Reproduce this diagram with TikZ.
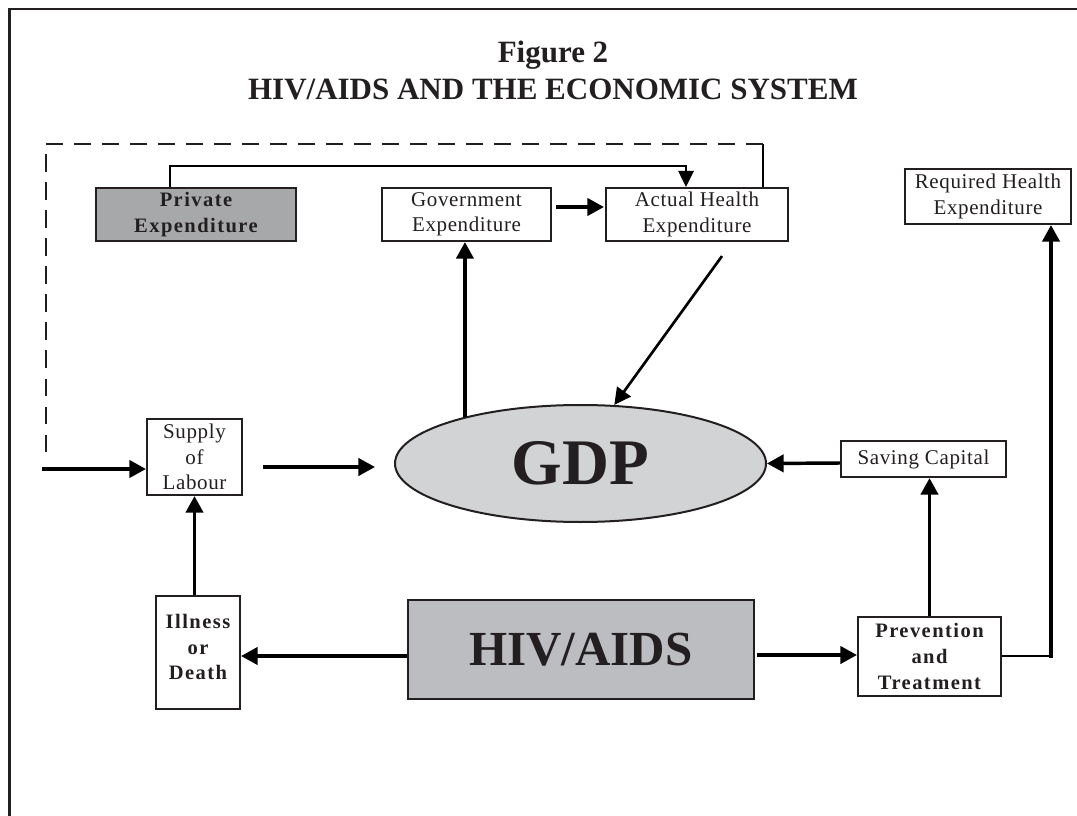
\documentclass[tikz,border=0pt]{standalone}
\usepackage{fontspec}
\setmainfont{Liberation Serif}
\newfontfamily\regsp[LetterSpace=3]{Liberation Serif}
\newfontfamily\boldsp[LetterSpace=7]{Liberation Serif}
\usetikzlibrary{arrows.meta,calc,shapes.geometric}
\definecolor{ink}{HTML}{231F20}
\definecolor{privgray}{HTML}{A7A8AA}
\definecolor{hivgray}{HTML}{BCBDC0}
\definecolor{gdpgray}{HTML}{D1D3D4}
\begin{document}
\begin{tikzpicture}[x=0.75pt,y=-0.75pt,
  box/.style={draw=ink, line width=1.6pt, fill=white, inner sep=0pt, align=center, text=ink},
  regtxt/.style={font=\regsp\fontsize{15.75pt}{18.9pt}\selectfont},
  boldtxt/.style={font=\boldsp\bfseries\fontsize{15.4pt}{19.2pt}\selectfont},
  titletxt/.style={font=\bfseries\fontsize{23.25pt}{28pt}\selectfont, text=ink, inner sep=0pt},
  arr/.style={draw=black, line width=2.6pt, -{Triangle[length=12.5pt,width=13pt]}},
  thinarr/.style={draw=black, line width=1.3pt, -{Triangle[length=12pt,width=11.5pt]}},
  diagarr/.style={draw=black, line width=2pt, -{Triangle[length=12.5pt,width=12.5pt]}},
  thinline/.style={draw=black, line width=1.5pt},
  dashline/.style={draw=ink, line width=1.5pt, dash pattern=on 13pt off 8pt}
]
\useasboundingbox (0,0) rectangle (1077,816);
% frame
\draw[draw=ink, line width=1.7pt] (9.5,816) -- (9.5,9) -- (1077,9);

% title
\node[titletxt, anchor=base] (t1) at (553,63) {Figure 2};
\node[titletxt, anchor=base] (t2) at (553,100) {HIV/AIDS AND THE ECONOMIC SYSTEM};

% nodes
\node[box, boldtxt, fill=privgray, minimum width=150pt, minimum height=39.75pt] (private) at (196,214.5) {Private\\Expenditure};
\node[box, regtxt, minimum width=126.75pt, minimum height=39.75pt] (gov) at (466.5,214.5) {Government\\Expenditure};
\node[box, regtxt, minimum width=136.5pt, minimum height=39.75pt] (actual) at (697,214.5) {Actual Health\\Expenditure};
\node[box, regtxt, minimum width=124.5pt, minimum height=41.25pt] (required) at (988,196.5) {Required Health\\Expenditure};
\node[box, regtxt, minimum width=71.25pt, minimum height=57pt] (supply) at (194.5,457) {Supply\\of\\Labour};
\node[ellipse, draw=ink, line width=1.5pt, fill=gdpgray, minimum width=278.25pt, minimum height=87.75pt, inner sep=0pt, text=ink, font=\bfseries\fontsize{48.75pt}{50pt}\selectfont] (gdp) at (580.5,463.5) {GDP};
\node[box, regtxt, minimum width=123.75pt, minimum height=27pt] (saving) at (923.5,459) {Saving Capital};
\node[box, minimum width=63pt, minimum height=84.75pt] (illness) at (198,652.5) {};
\node[boldtxt, align=center, text=ink, inner sep=0pt] (illtxt) at (198,647) {Illness\\or\\Death};
\node[box, fill=hivgray, minimum width=259.5pt, minimum height=74.25pt, font=\bfseries\fontsize{36.75pt}{40pt}\selectfont] (hiv) at (581,649.5) {HIV/AIDS};
\node[box, boldtxt, minimum width=107.25pt, minimum height=59.25pt] (prev) at (929.5,656.5) {Prevention\\and\\Treatment};

% coordinates for free ends
\coordinate (c1) at (763,144);
\coordinate (c2) at (45.5,144);
\coordinate (c3) at (45.5,460);
\coordinate (c4) at (42,469);
\coordinate (pr) at (1051,656);

% dashed feedback
\draw[thinline] ($(actual.north)+(66,0)$) -- (c1);
\draw[dashline] (c1) -- (c2) -- (c3);
\draw[arr] (c4) -- (c4 -| supply.west);

% private -> actual
\draw[thinarr] ($(private.north)+(-26,0)$) -- ++(0,-21) -| ($(actual.north)+(-11,0)$);
% gov -> actual
\draw[arr] ($(gov.east)+(4,-7.5)$) -- ($(actual.west)+(-1,-7.5)$);
% gdp -> gov
\draw[arr] (gdp.158) -- (gdp.158 |- gov.south);
% actual -> gdp
\draw[diagarr] ($(actual.south)+(25,14)$) -- (gdp.60.5);
% supply -> gdp
\draw[arr] ($(supply.east)+(20,10)$) -- ($(gdp.west)+(-19,3.5)$);
% illness -> supply
\draw[arr] (illness.north -| supply.south) -- (supply.south);
% hiv -> illness
\draw[arr] ($(hiv.west)+(0,6.5)$) -- ($(illness.east)+(0,3.5)$);
% hiv -> prevention
\draw[arr] ($(hiv.east)+(2,5.5)$) -- ($(prev.west)+(0,-1.5)$);
% prevention -> saving
\draw[arr] (prev.north) -- (prev.north |- saving.south);
% saving -> gdp
\draw[arr] ($(saving.west)+(0,4)$) -- (gdp.east);
% prevention -> required
\draw[thinline] ($(prev.east)+(0,-0.5)$) -- (pr);
\draw[arr] ($(pr)+(0,1.5)$) -- (pr |- required.south);
\end{tikzpicture}
\end{document}
